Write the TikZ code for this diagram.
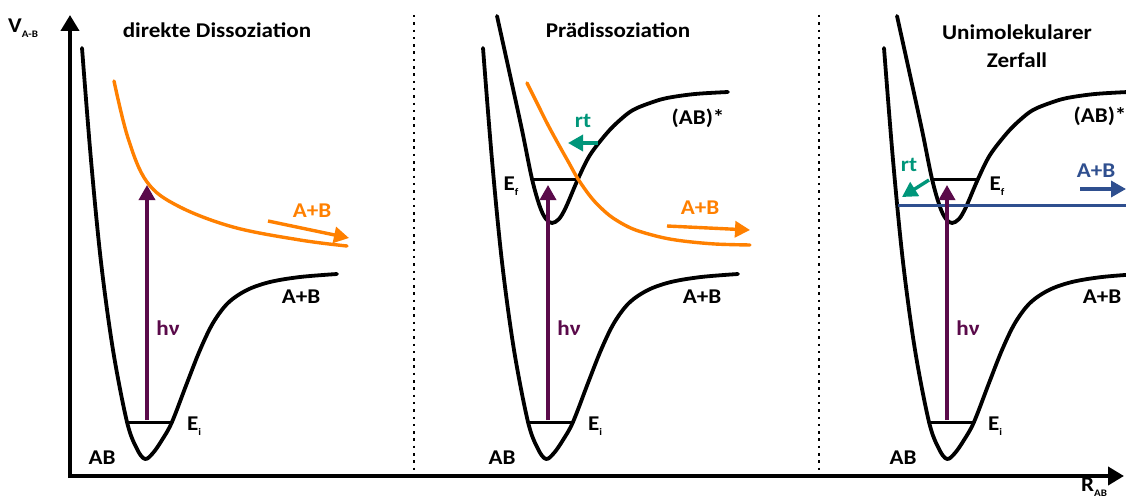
\documentclass[tikz,border=0pt]{standalone}
\usepackage{fontspec}
\setmainfont{Carlito}[FakeStretch=1.1]
\usetikzlibrary{arrows.meta}
\definecolor{myorange}{RGB}{255,128,0}
\definecolor{myteal}{RGB}{0,150,122}
\definecolor{myblue}{RGB}{47,79,143}
\definecolor{mypurple}{RGB}{90,10,74}
\tikzset{
  curve/.style={line width=3.8pt, line join=round, line cap=round},
  levelline/.style={line width=3pt},
  axisline/.style={line width=4pt, -{Triangle[length=16pt,width=18pt]}},
  sepline/.style={line width=2pt, dash pattern=on 2.5pt off 4.8pt},
  tipstyle/.style={-{Triangle[length=15pt,width=16pt]}},
  hvarrow/.style={tipstyle, line width=3.4pt, draw=mypurple},
  orarrow/.style={tipstyle, line width=3.4pt, draw=myorange},
  rtarrow/.style={tipstyle, line width=3.4pt, draw=myteal},
  blarrow/.style={tipstyle, line width=3.4pt, draw=myblue},
  lbl/.style={inner sep=0pt, font=\fontsize{21}{28}\selectfont\bfseries},
}
\newcommand\subs[1]{\raisebox{-5pt}{\fontsize{10}{10}\selectfont #1}}
\newcommand\groundcurve[1]{%
  \draw[curve, xshift=#1] plot[smooth, tension=0.55] coordinates {(82,48) (91,160) (101,262) (113,350) (127,422) (137,449) (145,459) (153,453) (162,440) (172,422) (187,383) (200,350) (213,323) (228,303) (247,290) (270,282) (300,277) (337,274)};
  \draw[levelline, xshift=#1] (127,422) -- (172,422);}
\newcommand\excitedcurve[1]{%
  \draw[curve, xshift=#1] plot[smooth, tension=0.55] coordinates {(497,16) (510,75) (522,130) (532,179) (540,207) (546,219) (552,223) (559,219) (566,207) (578,179) (590,155) (607,133) (620,120) (633,110) (650,103) (667,98) (695,94) (728,92)};
  \draw[levelline, xshift=#1] (532,179) -- (578,179);}
\begin{document}
\begin{tikzpicture}[x=1pt, y=-1pt]
\useasboundingbox (0,0) rectangle (1126,500);
\fill[white] (0,0) rectangle (1126,500);
\begin{scope}
\clip (0,0) rectangle (1126,500);
% axes
\coordinate (ytip) at (70,15);
\coordinate (xtip) at (1124,476);
\coordinate (ybase) at (70,478);
\coordinate (xbase) at (68,476);
\draw[axisline] (ybase) -- (ytip);
\draw[axisline] (xbase) -- (xtip);
\node[lbl, anchor=west] (vlabel) at (8,28) {V\subs{A-B}};
\node[lbl, anchor=north west] (rlabel) at (1081,478) {R\subs{AB}};
% separators
\coordinate (s1a) at (414,15); \coordinate (s1b) at (414,470);
\coordinate (s2a) at (819,15); \coordinate (s2b) at (819,470);
\draw[sepline] (s1a) -- (s1b);
\draw[sepline] (s2a) -- (s2b);

% ===== Panel 1 =====
\node[lbl] (t1) at (217,30) {direkte Dissoziation};
\draw[curve, line width=3.4pt, draw=myorange] plot[smooth, tension=0.6] coordinates {(114,81) (128,138) (147,182) (178,206) (233,227) (300,240) (347,246)};
\groundcurve{0pt}
\coordinate (hv1a) at (147,420); \coordinate (hv1b) at (147,185);
\draw[hvarrow] (hv1a) -- (hv1b);
\coordinate (or1a) at (268,221); \coordinate (or1b) at (349,238);
\draw[orarrow] (or1a) -- (or1b);
\node[lbl, text=mypurple] (hv1) at (168,328) {hν};
\node[lbl] (ab1) at (301,297) {A+B};
\node[lbl, text=myorange] (abo1) at (312,211) {A+B};
\node[lbl] (ei1) at (194,426) {E\subs{i}};
\node[lbl] (gab1) at (102,458) {AB};

% ===== Panel 2 =====
\node[lbl] (t2) at (618,30) {Prädissoziation};
\groundcurve{401pt}
\excitedcurve{0pt}
\draw[curve, line width=3.4pt, draw=myorange] plot[smooth, tension=0.55] coordinates {(527,83) (537,103) (548,125) (560,147) (569,163) (578,179) (590,196) (600,207) (613,218) (633,229) (660,237) (683,241) (715,244) (750,245)};
\coordinate (hv2a) at (548,420); \coordinate (hv2b) at (548,185);
\draw[hvarrow] (hv2a) -- (hv2b);
\coordinate (or2a) at (667,226); \coordinate (or2b) at (750,230);
\draw[orarrow] (or2a) -- (or2b);
\coordinate (rt2a) at (598,143); \coordinate (rt2b) at (568,143);
\draw[rtarrow] (rt2a) -- (rt2b);
\node[lbl, text=mypurple] (hv2) at (569,328) {hν};
\node[lbl] (ab2) at (702,297) {A+B};
\node[lbl, text=myorange] (abo2) at (700,208) {A+B};
\node[lbl, text=myteal] (rt2l) at (583,121) {rt};
\node[lbl] (abs2) at (698,118) {(AB)*};
\node[lbl] (ef2) at (511,186) {E\subs{f}};
\node[lbl] (ei2) at (595,426) {E\subs{i}};
\node[lbl] (gab2) at (502,458) {AB};

% ===== Panel 3 =====
\node[lbl, align=center] (t3) at (1017,46) {Unimolekularer\\Zerfall};
\groundcurve{802pt}
\excitedcurve{400pt}
\coordinate (bl3a) at (898,205); \coordinate (bl3b) at (1126,205);
\draw[line width=3pt, draw=myblue] (bl3a) -- (bl3b);
\coordinate (hv3a) at (947,420); \coordinate (hv3b) at (947,185);
\draw[hvarrow] (hv3a) -- (hv3b);
\coordinate (bla) at (1080,189); \coordinate (blb) at (1126,189);
\draw[blarrow] (bla) -- (blb);
\coordinate (rt3a) at (929,180); \coordinate (rt3b) at (902,197);
\draw[rtarrow] (rt3a) -- (rt3b);
\node[lbl, text=mypurple] (hv3) at (968,328) {hν};
\node[lbl] (ab3) at (1102,297) {A+B};
\node[lbl, text=myblue] (abb3) at (1096,171) {A+B};
\node[lbl, text=myteal] (rt3l) at (909,165) {rt};
\node[lbl] (abs3) at (1100,116) {(AB)*};
\node[lbl] (ef3) at (997,186) {E\subs{f}};
\node[lbl] (ei3) at (995,426) {E\subs{i}};
\node[lbl] (gab3) at (903,458) {AB};
\end{scope}
\end{tikzpicture}
\end{document}
